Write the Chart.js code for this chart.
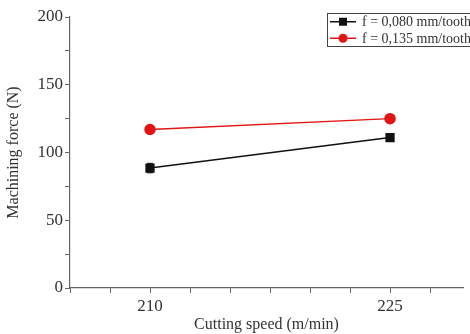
<!DOCTYPE html>
<html>
<head>
<meta charset="utf-8">
<script src="https://cdn.jsdelivr.net/npm/chart.js@4/dist/chart.umd.min.js"></script>
<style>
html,body{margin:0;padding:0;background:#fff;}
#wrap{width:470px;height:334px;}
</style>
</head>
<body>
<div id="wrap"><canvas id="c" width="470" height="334"></canvas></div>
<script>
const speeds = [210, 225];
const force080 = [88.5, 111];
const err080 = [3.5, 1.5];
const force135 = [117, 125];
const err135 = [1.5, 1.5];
const seriesLabels = ['f = 0,080 mm/tooth', 'f = 0,135 mm/tooth'];
const xTickLabels = [210, 225];
const yTickLabels = [0, 50, 100, 150, 200];

const serif = "'Liberation Serif', 'DejaVu Serif', serif";
const axisColor = '#666';
const textColor = '#333';

const errorBars = {
  id: 'errorBars',
  afterDatasetsDraw(chart) {
    const {ctx, scales: {x, y}} = chart;
    ctx.save();
    chart.data.datasets.forEach(ds => {
      ctx.strokeStyle = ds.borderColor;
      ctx.lineWidth = 1;
      ds.data.forEach((p, i) => {
        const e = ds.errors[i];
        const px = x.getPixelForValue(p.x);
        const y1 = y.getPixelForValue(p.y + e);
        const y2 = y.getPixelForValue(p.y - e);
        ctx.beginPath();
        ctx.moveTo(px, y1); ctx.lineTo(px, y2);
        ctx.moveTo(px - 3, y1); ctx.lineTo(px + 3, y1);
        ctx.moveTo(px - 3, y2); ctx.lineTo(px + 3, y2);
        ctx.stroke();
      });
    });
    ctx.restore();
  }
};

const boxLegend = {
  id: 'boxLegend',
  afterDraw(chart) {
    const ctx = chart.ctx;
    const left = 327, top = 13, rowH = 16.5;
    ctx.save();
    ctx.strokeStyle = '#444';
    ctx.lineWidth = 1;
    ctx.strokeRect(left + 0.5, top + 0.5, 200, rowH * chart.data.datasets.length);
    chart.data.datasets.forEach((ds, i) => {
      const cy = top + rowH * i + rowH / 2 + 0.5;
      ctx.strokeStyle = ds.borderColor;
      ctx.lineWidth = 1.5;
      ctx.beginPath();
      ctx.moveTo(left + 3, cy); ctx.lineTo(left + 29, cy);
      ctx.stroke();
      ctx.fillStyle = ds.backgroundColor;
      if (ds.pointStyle === 'rect') {
        ctx.fillRect(left + 16 - 4, cy - 4, 8, 8);
      } else {
        ctx.beginPath();
        ctx.arc(left + 16, cy, 4.5, 0, Math.PI * 2);
        ctx.fill();
      }
      ctx.fillStyle = textColor;
      ctx.font = "14px " + serif;
      ctx.textBaseline = 'middle';
      ctx.fillText(ds.label, left + 35, cy + 1);
    });
    ctx.restore();
  }
};

new Chart(document.getElementById('c'), {
  type: 'line',
  data: {
    datasets: [
      {
        label: seriesLabels[0],
        data: speeds.map((s, i) => ({x: s, y: force080[i]})),
        errors: err080,
        borderColor: '#111',
        backgroundColor: '#111',
        borderWidth: 1.5,
        pointStyle: 'rect',
        pointRadius: 5.5,
        pointHoverRadius: 5.5
      },
      {
        label: seriesLabels[1],
        data: speeds.map((s, i) => ({x: s, y: force135[i]})),
        errors: err135,
        borderColor: '#e01515',
        backgroundColor: '#e01515',
        borderWidth: 1.5,
        pointStyle: 'circle',
        pointRadius: 5,
        pointHoverRadius: 5
      }
    ]
  },
  options: {
    responsive: false,
    animation: false,
    layout: {padding: {top: 17, right: 0, left: 4, bottom: 0}},
    plugins: {
      legend: {display: false},
      tooltip: {enabled: false}
    },
    scales: {
      x: {
        type: 'linear',
        min: 205,
        max: 229.56,
        afterFit(s) { s.height = 46; },
        afterBuildTicks(s) {
          const t = [];
          for (let v = 205; v <= 228; v += 2.5) t.push({value: v});
          s.ticks = t;
        },
        border: {display: true, color: axisColor, width: 1.2},
        grid: {display: true, drawOnChartArea: false, drawTicks: true, tickLength: 5, color: axisColor, tickColor: axisColor},
        ticks: {
          autoSkip: false,
          maxRotation: 0,
          padding: 0,
          color: textColor,
          font: {family: serif, size: 17, lineHeight: 1.65},
          callback: v => xTickLabels.includes(v) ? String(v) : ''
        },
        title: {display: true, text: 'Cutting speed (m/min)', color: textColor, font: {family: serif, size: 16}, padding: {top: 0, bottom: 0}}
      },
      y: {
        min: 0,
        max: 200,
        afterFit(s) { s.width = 66; },
        border: {display: true, color: axisColor, width: 1.2},
        grid: {display: true, drawOnChartArea: false, drawTicks: true, tickLength: 5, color: axisColor, tickColor: axisColor},
        ticks: {
          stepSize: 25,
          autoSkip: false,
          padding: 2,
          color: textColor,
          font: {family: serif, size: 17},
          callback: v => yTickLabels.includes(v) ? String(v) : ''
        },
        title: {display: true, text: 'Machining force (N)', color: textColor, font: {family: serif, size: 16}, padding: {top: 0, bottom: 4}}
      }
    }
  },
  plugins: [errorBars, boxLegend]
});
</script>
</body>
</html>
